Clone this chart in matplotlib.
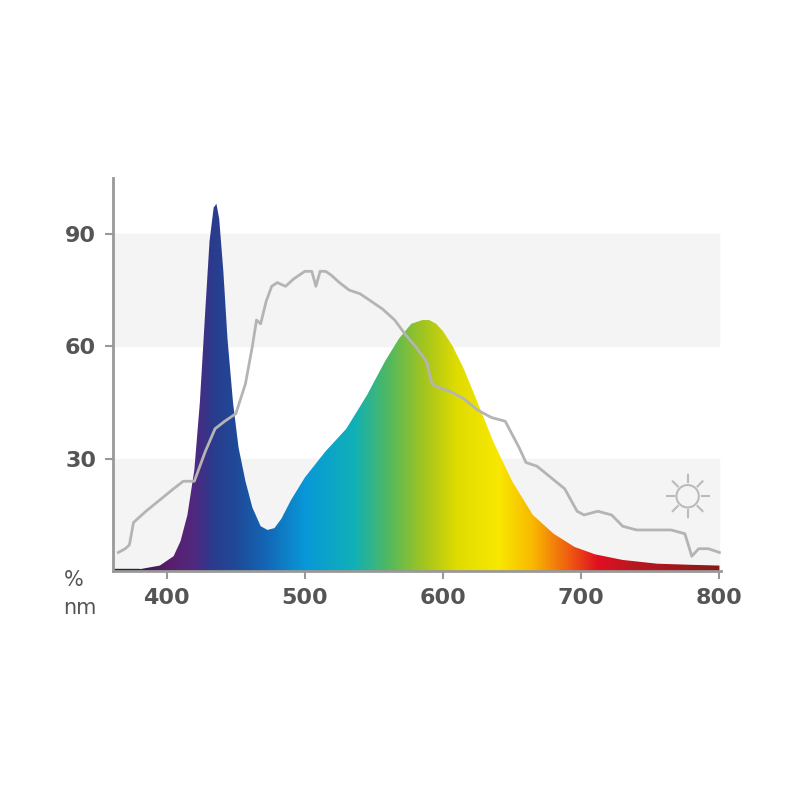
import numpy as np
import matplotlib
matplotlib.use("Agg")
import matplotlib.pyplot as plt
from matplotlib.patches import Polygon
from matplotlib.colors import LinearSegmentedColormap

led_nm = [360, 380, 395, 405, 410, 415, 420, 424, 428, 431, 434, 436, 438, 441, 444, 448, 452, 457, 462, 468, 473, 478, 483, 490, 500, 515, 530, 545, 558, 568, 577, 585, 590, 595, 600, 607, 615, 625, 637, 650, 665, 680, 695, 710, 730, 755, 780, 800]
led_val = [0.5, 0.5, 1.5, 4, 8, 15, 27, 45, 70, 88, 97, 98, 94, 80, 62, 45, 33, 24, 17, 12, 11, 11.5, 14, 19, 25, 32, 38, 47, 56, 62, 66, 67, 67, 66, 64, 60, 54, 45, 34, 24, 15, 10, 6.5, 4.5, 3, 2, 1.7, 1.5]
sun_nm = [365, 370, 373, 376, 385, 395, 405, 412, 420, 428, 435, 442, 450, 457, 462, 465, 468, 472, 476, 480, 486, 492, 500, 505, 508, 511, 515, 519, 525, 532, 540, 548, 556, 565, 573, 580, 584, 588, 592, 597, 605, 615, 625, 635, 645, 655, 660, 668, 678, 688, 697, 702, 712, 722, 730, 740, 752, 765, 775, 780, 785, 792, 800]
sun_val = [5, 6, 7, 13, 16, 19, 22, 24, 24, 32, 38, 40, 42, 50, 60, 67, 66, 72, 76, 77, 76, 78, 80, 80, 76, 80, 80, 79, 77, 75, 74, 72, 70, 67, 63, 60, 58, 56, 50, 49, 48, 46, 43, 41, 40, 33, 29, 28, 25, 22, 16, 15, 16, 15, 12, 11, 11, 11, 10, 4, 6, 6, 5]
xticks = [400, 500, 600, 700, 800]
yticks = [30, 60, 90]

fig = plt.figure(figsize=(8, 8), dpi=100)
ax = fig.add_axes([0.141, 0.286, 0.76, 0.492])
ax.set_xlim(361, 801)
ax.set_ylim(0, 105)

ax.axhspan(0, 30, xmax=(800-361)/440, color="#f4f4f4", zorder=0)
ax.axhspan(60, 90, xmax=(800-361)/440, color="#f4f4f4", zorder=0)

def t(nm):
    return (nm - 380) / 420
stops = [(380, "#3a1a4a"), (405, "#5a2070"), (420, "#4e2a80"), (432, "#2c3a8c"),
         (450, "#1e4a98"), (470, "#1464b4"), (500, "#0898d8"), (535, "#10b0b8"),
         (560, "#50b860"), (585, "#a0c420"), (610, "#e0dc00"), (640, "#f8e800"),
         (665, "#f8b800"), (690, "#f06010"), (712, "#e01020"), (740, "#b81820"), (800, "#8a1818")]
cmap = LinearSegmentedColormap.from_list("spec", [(t(n), c) for n, c in stops])
grad = np.linspace(0, 1, 1024).reshape(1, -1)
im = ax.imshow(grad, extent=[380, 800, 0, 105], aspect="auto", cmap=cmap, zorder=2)
poly = Polygon(list(zip(led_nm, led_val)) + [(800, 0), (360, 0)], closed=True, transform=ax.transData, facecolor="none", edgecolor="none")
ax.add_patch(poly)
im.set_clip_path(poly)
ax.fill_between([360, 380], 0, [0.5, 0.5], color="#3a1a4a", zorder=2)

ax.plot(sun_nm, sun_val, color="#b4b4b4", lw=2, zorder=3)

# sun icon (in pixel-like offsets via scatter + rays)
cx, cy = 777, 20
ax.scatter([cx], [cy], s=260, facecolors="none", edgecolors="#bbbbbb", linewidths=1.5, zorder=4)
sx, sy = 440 / (0.76 * 800), 105 / (0.492 * 800)
for a in np.arange(0, 360, 45):
    r = np.deg2rad(a)
    r1, r2 = 14, 21
    ax.plot([cx + r1 * np.cos(r) * sx, cx + r2 * np.cos(r) * sx],
            [cy + r1 * np.sin(r) * sy, cy + r2 * np.sin(r) * sy], color="#bbbbbb", lw=1.5, zorder=4)

for s in ["top", "right"]:
    ax.spines[s].set_visible(False)
for s in ["left", "bottom"]:
    ax.spines[s].set_color("#999999")
    ax.spines[s].set_linewidth(2)
ax.set_xticks(xticks)
ax.set_yticks(yticks)
ax.set_xticklabels([str(v) for v in xticks], fontsize=16, fontweight="bold", color="#555555")
ax.set_yticklabels([str(v) for v in yticks], fontsize=16, fontweight="bold", color="#555555")
ax.tick_params(axis="both", direction="out", length=6, width=1.5, color="#999999", pad=6)

fig.text(0.092, 0.268, "%", fontsize=15, color="#555555", ha="center")
fig.text(0.1, 0.232, "nm", fontsize=15, color="#555555", ha="center")
fig.savefig("out.png", dpi=100)
